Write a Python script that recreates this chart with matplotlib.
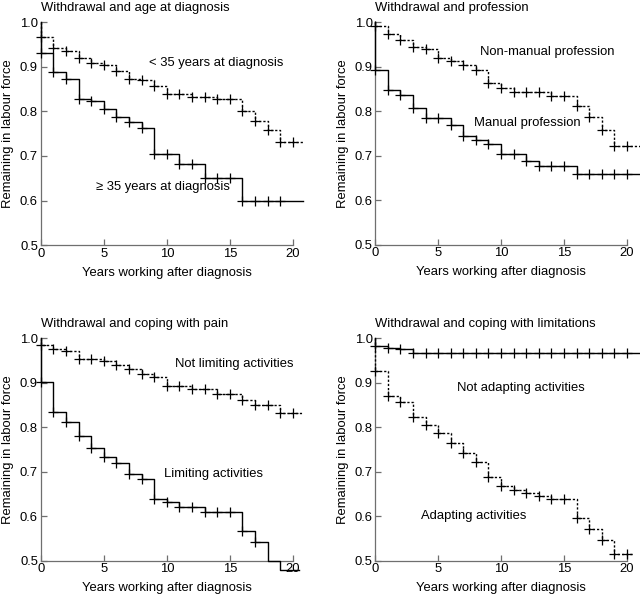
"""
Kaplan-Meier style curves: remaining in labour force by years after diagnosis.
Four panels, each comparing two groups.
"""
import matplotlib
matplotlib.use('Agg')
import matplotlib.pyplot as plt

plt.rcParams['font.family'] = ['Liberation Sans', 'DejaVu Sans']

years = list(range(0, 21))

# panel 1 - age at diagnosis
age_young = [0.967, 0.941, 0.935, 0.919, 0.909, 0.903, 0.891, 0.873, 0.869, 0.857, 0.839,
             0.839, 0.832, 0.832, 0.827, 0.827, 0.801, 0.779, 0.757, 0.732, 0.732]
age_old = [0.930, 0.888, 0.872, 0.828, 0.823, 0.805, 0.787, 0.775, 0.762, 0.704, 0.704,
           0.681, 0.681, 0.651, 0.651, 0.651, 0.600, 0.600, 0.600, 0.600, 0.600]

# panel 2 - profession
prof_nonmanual = [0.992, 0.972, 0.960, 0.943, 0.940, 0.919, 0.913, 0.903, 0.892, 0.863, 0.851,
                  0.843, 0.843, 0.843, 0.834, 0.833, 0.812, 0.787, 0.757, 0.721, 0.721]
prof_manual = [0.893, 0.847, 0.835, 0.806, 0.785, 0.785, 0.768, 0.744, 0.735, 0.725, 0.703,
               0.703, 0.687, 0.677, 0.677, 0.677, 0.659, 0.659, 0.659, 0.659, 0.659]

# panel 3 - coping with pain
pain_not_limiting = [0.986, 0.975, 0.971, 0.953, 0.953, 0.948, 0.939, 0.930, 0.920, 0.912, 0.893,
                     0.893, 0.886, 0.886, 0.874, 0.874, 0.862, 0.849, 0.849, 0.831, 0.831]
pain_limiting = [0.902, 0.834, 0.812, 0.780, 0.754, 0.732, 0.719, 0.695, 0.684, 0.639, 0.632,
                 0.621, 0.621, 0.609, 0.609, 0.609, 0.566, 0.543, 0.500, 0.478, 0.478]

# panel 4 - coping with limitations
lim_not_adapting = [0.982, 0.979, 0.975, 0.967, 0.967, 0.967, 0.967, 0.967, 0.967, 0.967, 0.967,
                    0.967, 0.967, 0.967, 0.967, 0.967, 0.967, 0.967, 0.967, 0.967, 0.967]
lim_adapting = [0.926, 0.870, 0.857, 0.822, 0.805, 0.788, 0.765, 0.742, 0.722, 0.689, 0.668,
                0.660, 0.653, 0.646, 0.639, 0.639, 0.595, 0.572, 0.546, 0.514, 0.514]

FS = 9.4
DOTTED = (0, (1.6, 1.4))
AXIS_GREY = '#6f6f6f'


def km_curve(ax, values, dotted, x_end, n_marks=21):
    """
    Draws one step curve starting at 1.0 with censoring crosses.
    """
    xs = [0] + years + [x_end]
    ys = [1.0] + values + [values[-1]]
    ls = DOTTED if dotted else '-'
    ax.step(xs, ys, where='post', color='black', lw=1.0, linestyle=ls, clip_on=False, zorder=3)
    ax.plot(years[:n_marks], values[:n_marks], '+', color='black', markersize=7.5,
            markeredgewidth=0.9, clip_on=False, zorder=4)


def style_axes(ax, title):
    """
    Only left and bottom axis lines, ticks pointing inward.
    """
    ax.set_xlim(0, 20)
    ax.set_ylim(0.5, 1.0)
    for side in ['top', 'right']:
        ax.spines[side].set_visible(False)
    for side in ['left', 'bottom']:
        ax.spines[side].set_color(AXIS_GREY)
        ax.spines[side].set_linewidth(0.9)
    ax.set_xticks([0, 5, 10, 15, 20])
    ax.set_yticks([0.5, 0.6, 0.7, 0.8, 0.9, 1.0])
    ax.set_yticklabels(['0.5', '0.6', '0.7', '0.8', '0.9', '1.0'])
    ax.tick_params(direction='in', length=4, width=0.9, color=AXIS_GREY,
                   labelsize=FS, pad=2)
    ax.set_xlabel('Years working after diagnosis', fontsize=FS, labelpad=5)
    ax.set_ylabel('Remaining in labour force', fontsize=FS, labelpad=4)
    ax.set_title(title, loc='left', fontsize=FS, pad=8)


fig = plt.figure(figsize=(6.4, 5.95), dpi=100)

ax1 = fig.add_axes([0.0636, 0.588, 0.394, 0.375])
ax2 = fig.add_axes([0.5864, 0.589, 0.393, 0.374])
ax3 = fig.add_axes([0.0636, 0.0577, 0.394, 0.3737])
ax4 = fig.add_axes([0.5864, 0.0577, 0.393, 0.3737])

# panel 1
style_axes(ax1, 'Withdrawal and age at diagnosis')
km_curve(ax1, age_young, True, 20.77)
km_curve(ax1, age_old, False, 20.77, n_marks=20)
ax1.text(8.57, 0.909, '< 35 years at diagnosis', fontsize=FS, va='center')
ax1.text(4.4, 0.630, '\u2265 35 years at diagnosis', fontsize=FS, va='center')

# panel 2
style_axes(ax2, 'Withdrawal and profession')
km_curve(ax2, prof_nonmanual, True, 21.05)
km_curve(ax2, prof_manual, False, 21.05)
ax2.text(8.32, 0.932, 'Non-manual profession', fontsize=FS, va='center')
ax2.text(7.87, 0.772, 'Manual profession', fontsize=FS, va='center')

# panel 3
style_axes(ax3, 'Withdrawal and coping with pain')
km_curve(ax3, pain_not_limiting, True, 20.74)
km_curve(ax3, pain_limiting, False, 20.5, n_marks=18)
ax3.text(10.65, 0.9415, 'Not limiting activities', fontsize=FS, va='center')
ax3.text(9.8, 0.696, 'Limiting activities', fontsize=FS, va='center')

# panel 4
style_axes(ax4, 'Withdrawal and coping with limitations')
km_curve(ax4, lim_not_adapting, False, 21.05)
km_curve(ax4, lim_adapting, True, 20.4)
ax4.text(6.46, 0.8876, 'Not adapting activities', fontsize=FS, va='center')
ax4.text(3.6, 0.600, 'Adapting activities', fontsize=FS, va='center')

fig.savefig('out.png', dpi=100)
